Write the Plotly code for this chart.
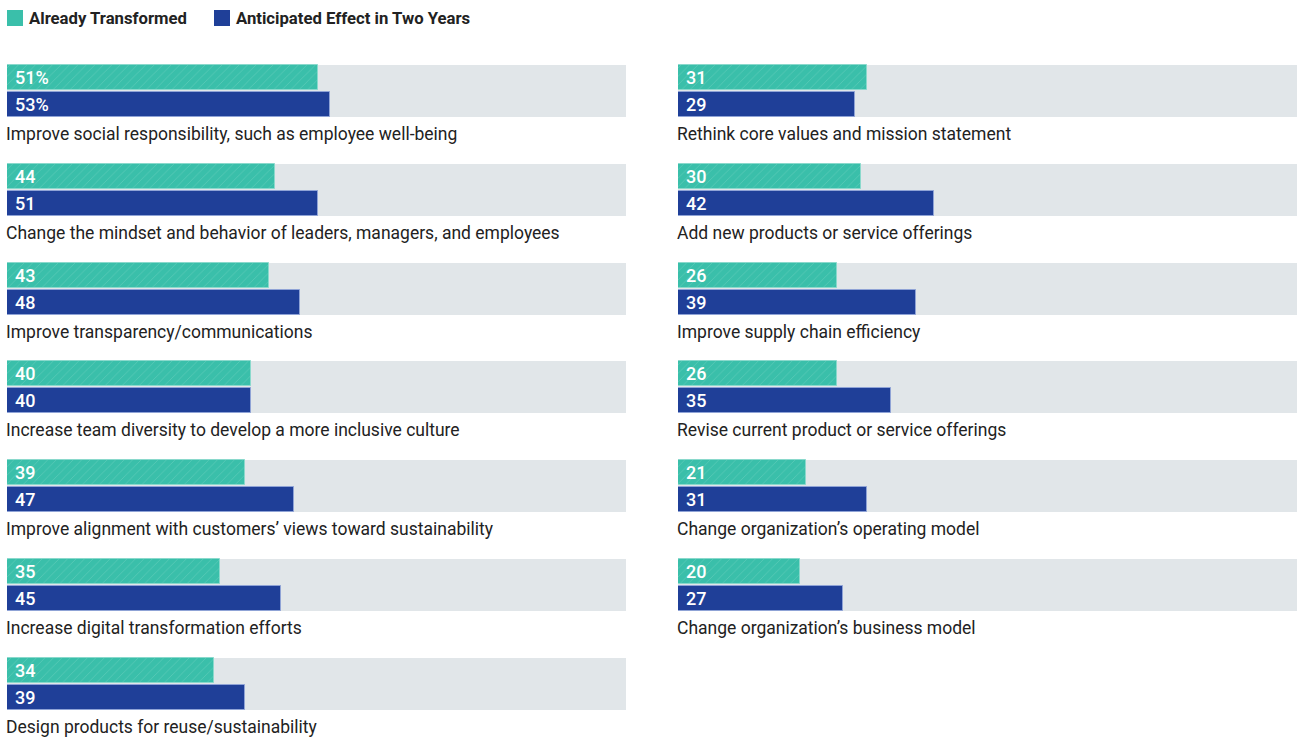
import plotly.graph_objects as go

# ---------------- data ----------------
left_labels = [
    "Improve social responsibility, such as employee well-being",
    "Change the mindset and behavior of leaders, managers, and employees",
    "Improve transparency/communications",
    "Increase team diversity to develop a more inclusive culture",
    "Improve alignment with customers’ views toward sustainability",
    "Increase digital transformation efforts",
    "Design products for reuse/sustainability",
]
left_already = [51, 44, 43, 40, 39, 35, 34]
left_anticipated = [53, 51, 48, 40, 47, 45, 39]

right_labels = [
    "Rethink core values and mission statement",
    "Add new products or service offerings",
    "Improve supply chain efficiency",
    "Revise current product or service offerings",
    "Change organization’s operating model",
    "Change organization’s business model",
]
right_already = [31, 30, 26, 26, 21, 20]
right_anticipated = [29, 42, 39, 35, 31, 27]

series_names = ["Already Transformed", "Anticipated Effect in Two Years"]

# ---------------- style ----------------
W, H = 1300, 737
TEAL = "#3abfaa"
TEAL_HATCH = "#7fd6c8"
NAVY = "#1f3f98"
GREY = "#e1e6e9"
TEXT = "#222222"
FONT = "Roboto, 'DejaVu Sans Condensed', sans-serif"
TRACK = 101.5          # full grey track length in data units
ROW_TOP0 = 65
ROW_PITCH = 98.8

fig = go.Figure()


def add_column(labels, already, anticipated, xa, xref):
    tops = [ROW_TOP0 + i * ROW_PITCH for i in range(len(labels))]
    fig.add_trace(go.Bar(
        orientation="h", x=[TRACK] * len(labels), y=[t + 26 for t in tops],
        width=[52] * len(labels), marker=dict(color=GREY, line=dict(width=0)),
        xaxis=xa, yaxis="y", hoverinfo="skip", showlegend=False))
    fig.add_trace(go.Bar(
        orientation="h", x=already, y=[t + 12.5 for t in tops],
        width=[25] * len(labels),
        marker=dict(color=TEAL, line=dict(width=1, color="#8ad9cc"),
                    pattern=dict(shape="/", fgcolor=TEAL_HATCH, bgcolor=TEAL,
                                 size=6, solidity=0.12)),
        xaxis=xa, yaxis="y", name=series_names[0], showlegend=False))
    fig.add_trace(go.Bar(
        orientation="h", x=anticipated, y=[t + 39.5 for t in tops],
        width=[25] * len(labels),
        marker=dict(color=NAVY, line=dict(width=1, color="#8fa3d6")),
        xaxis=xa, yaxis="y", name=series_names[1], showlegend=False))
    first = xa == "x"
    for i, t in enumerate(tops):
        suf = "%" if (first and i == 0) else ""
        for val, yc in ((already[i], t + 12.5), (anticipated[i], t + 39.5)):
            fig.add_annotation(x=0, y=yc, xref=xref, yref="y", text=f"{val}{suf}",
                               showarrow=False, xanchor="left", yanchor="middle",
                               xshift=6, font=dict(family=FONT, size=18, color="white",
                                                   weight=500))
        fig.add_annotation(x=0, y=t + 69, xref=xref, yref="y", text=labels[i],
                           showarrow=False, xanchor="left", yanchor="middle",
                           xshift=-3, font=dict(family=FONT, size=17.5, color=TEXT))


add_column(left_labels, left_already, left_anticipated, "x", "x")
add_column(right_labels, right_already, right_anticipated, "x2", "x2")

# legend (manual)
for x0, col, name in ((7, TEAL, series_names[0]), (214, NAVY, series_names[1])):
    fig.add_shape(type="rect", xref="paper", yref="y", x0=x0 / W, x1=(x0 + 16) / W,
                  y0=10, y1=26, fillcolor=col, line=dict(width=0))
    fig.add_annotation(x=(x0 + 20) / W, y=18, xref="paper", yref="y", text=f"<b>{name}</b>",
                       showarrow=False, xanchor="left", yanchor="middle",
                       font=dict(family=FONT, size=16.7, color=TEXT))

fig.update_layout(
    width=W, height=H, margin=dict(l=0, r=0, t=0, b=0),
    paper_bgcolor="white", plot_bgcolor="white",
    barmode="overlay", bargap=0, showlegend=False,
    xaxis=dict(domain=[7 / W, 626 / W], range=[0, TRACK], visible=False, fixedrange=True),
    xaxis2=dict(domain=[678 / W, 1297 / W], range=[0, TRACK], visible=False,
                anchor="y", fixedrange=True),
    yaxis=dict(domain=[0, 1], range=[H, 0], visible=False, fixedrange=True),
)

fig.write_html("out.html")
